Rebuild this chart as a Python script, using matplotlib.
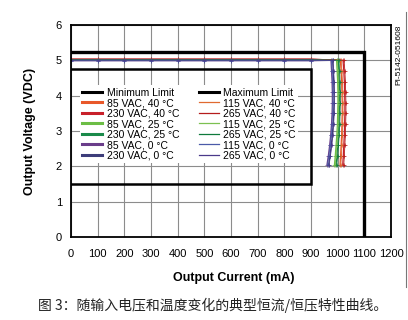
import matplotlib
matplotlib.use("Agg")
import matplotlib.pyplot as plt
from matplotlib.lines import Line2D

# ---------------- data ----------------
flat_current = [0, 100, 200, 300, 400, 500, 600, 700, 800, 900]
drop_voltage = [5.0, 4.7, 4.4, 4.1, 3.8, 3.5, 3.2, 2.9, 2.6, 2.3, 2.05]

series_labels = [
    "85 VAC, 40 °C", "230 VAC, 40 °C", "85 VAC, 25 °C", "230 VAC, 25 °C",
    "85 VAC, 0 °C", "230 VAC, 0 °C",
    "115 VAC, 40 °C", "265 VAC, 40 °C", "115 VAC, 25 °C", "265 VAC, 25 °C",
    "115 VAC, 0 °C", "265 VAC, 0 °C",
]
flat_voltage = [5.01, 5.03, 5.0, 5.02, 4.99, 5.0, 5.02, 5.04, 5.01, 5.02, 4.99, 5.01]
drop_current = [
    [1010, 1013, 1015, 1016, 1017, 1017, 1016, 1015, 1013, 1011, 1009],
    [1020, 1023, 1025, 1026, 1027, 1027, 1026, 1025, 1023, 1021, 1019],
    [996, 998, 1000, 1001, 1001, 1000, 999, 997, 994, 991, 988],
    [1002, 1004, 1006, 1007, 1007, 1006, 1005, 1003, 1000, 997, 994],
    [975, 977, 979, 980, 980, 979, 977, 974, 970, 965, 960],
    [981, 983, 985, 986, 986, 985, 983, 980, 976, 971, 966],
    [1013, 1016, 1018, 1019, 1020, 1020, 1019, 1018, 1016, 1014, 1012],
    [1024, 1027, 1029, 1030, 1031, 1031, 1030, 1029, 1027, 1025, 1023],
    [999, 1001, 1003, 1004, 1004, 1003, 1002, 1000, 997, 994, 991],
    [1005, 1007, 1009, 1010, 1010, 1009, 1008, 1006, 1003, 1000, 997],
    [977, 979, 981, 982, 982, 981, 979, 976, 972, 967, 962],
    [983, 985, 987, 988, 988, 987, 985, 982, 978, 973, 968],
]
series_colors = [
    "#e8582a", "#c8202a", "#6cbd45", "#1a8a4a", "#6a3d8a", "#3d3d7a",
    "#e06a30", "#b51c1c", "#7cc050", "#0f7a3c", "#4a5aa8", "#4a3a8a",
]
series_widths = [2.0] * 6 + [0.9] * 6

min_limit_i = [0, 900, 900, 0]
min_limit_v = [4.75, 4.75, 1.5, 1.5]
max_limit_i = [0, 1100, 1100]
max_limit_v = [5.25, 5.25, 0]

x_ticks = [0, 100, 200, 300, 400, 500, 600, 700, 800, 900, 1000, 1100, 1200]
y_ticks = [0, 1, 2, 3, 4, 5, 6]

# ---------------- figure ----------------
plt.rcParams["font.family"] = ["Liberation Sans", "DejaVu Sans"]
fig = plt.figure(figsize=(4.08, 3.2), dpi=100)
ax = fig.add_axes([71 / 408, 1 - 237 / 320, 320 / 408, 212 / 320])

ax.set_xlim(0, 1200)
ax.set_ylim(0, 6)
ax.set_xticks(x_ticks)
ax.set_yticks(y_ticks)
ax.tick_params(axis="x", length=0, pad=8.5, labelsize=8)
ax.tick_params(axis="y", length=0, pad=6.5, labelsize=8)
ax.grid(True, color="#8c8c8c", linewidth=0.8)
ax.set_axisbelow(True)
for sp in ax.spines.values():
    sp.set_linewidth(1.3)
    sp.set_color("black")

handles = {}
ax.plot(min_limit_i, min_limit_v, color="black", lw=1.8, solid_joinstyle="miter")
handles["Minimum Limit"] = Line2D([], [], color="black", lw=2.2)
ax.plot(max_limit_i, max_limit_v, color="black", lw=2.4, solid_joinstyle="miter")
handles["Maximum Limit"] = Line2D([], [], color="black", lw=2.2)

for lab, fv, dc, col, lw in zip(series_labels, flat_voltage, drop_current,
                                series_colors, series_widths):
    xs = flat_current + dc
    ys = [fv] * len(flat_current) + drop_voltage
    ax.plot(xs, ys, color=col, lw=0.9 if lw > 1 else 0.6, marker="+", ms=2.5, mew=0.5)
    handles[lab] = Line2D([], [], color=col, lw=lw * (1.1 if lw > 1 else 1.0))

order = ["Minimum Limit"] + series_labels[:6] + ["Maximum Limit"] + series_labels[6:]
leg = ax.legend([handles[k] for k in order], order, ncol=2, loc="upper left",
                bbox_to_anchor=(0.028, 0.715), fontsize=7.5, frameon=True,
                facecolor="white", edgecolor="none", framealpha=1,
                handlelength=1.9, handletextpad=0.45, labelspacing=0.05,
                columnspacing=1.9, borderpad=0.2, borderaxespad=0, fancybox=False)
leg.set_zorder(5)

fig.text(234 / 408, 1 - 278 / 320, "Output Current (mA)", ha="center", va="center",
         fontsize=9, fontweight="bold")
fig.text(30 / 408, 1 - 131 / 320, "Output Voltage (VDC)", ha="center", va="center",
         rotation=90, fontsize=9, fontweight="bold")
fig.text(399 / 408, 1 - 55 / 320, "PI-5142-051608", ha="center", va="center",
         rotation=90, fontsize=6)
fig.add_artist(Line2D([406 / 408, 406 / 408], [1 - 12 / 320, 1 - 287 / 320],
                      color="#777777", lw=0.8))
fig.text(38 / 408, 1 - 305 / 320, "图 3：随输入电压和温度变化的典型恒流/恒压特性曲线。",
         ha="left", va="center", fontsize=10, color="#222222",
         family=["Noto Sans CJK SC", "DejaVu Sans"])

fig.savefig("out.png", dpi=100)
